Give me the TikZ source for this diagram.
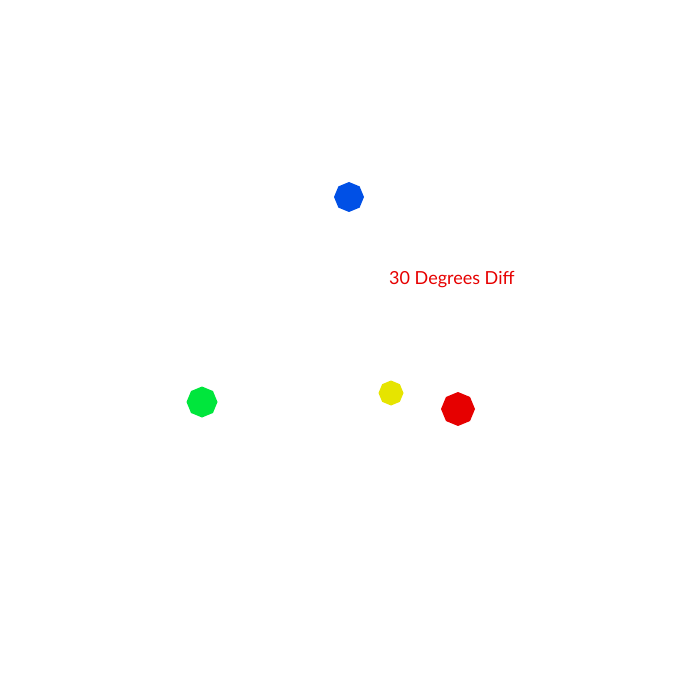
\documentclass[tikz,border=0pt]{standalone}
\usepackage{fontspec}
\setmainfont{Lato}
\usetikzlibrary{shapes.geometric}
\definecolor{dotblue}{RGB}{0,80,230}
\definecolor{dotyellow}{RGB}{230,228,0}
\definecolor{dotred}{RGB}{230,0,0}
\definecolor{dotgreen}{RGB}{0,230,60}
\begin{document}
\begin{tikzpicture}[x=1pt,y=-1pt,dot/.style={regular polygon,regular polygon sides=8,shape border rotate=22.5,inner sep=0pt,draw=none}]
\path[use as bounding box] (0,0) rectangle (700,700);
\node[dot,fill=dotblue,minimum size=30pt] (blue) at (349,197) {};
\node[dot,fill=dotyellow,minimum size=25pt] (yellow) at (391,393) {};
\node[dot,fill=dotred,minimum size=34pt] (red) at (458,409) {};
\node[dot,fill=dotgreen,minimum size=31pt] (green) at (202,402) {};
\node[anchor=west,inner sep=0pt,text=dotred,font=\fontsize{18}{21}\selectfont] (diff) at (389,280) {30 Degrees Diff};
\end{tikzpicture}
\end{document}
